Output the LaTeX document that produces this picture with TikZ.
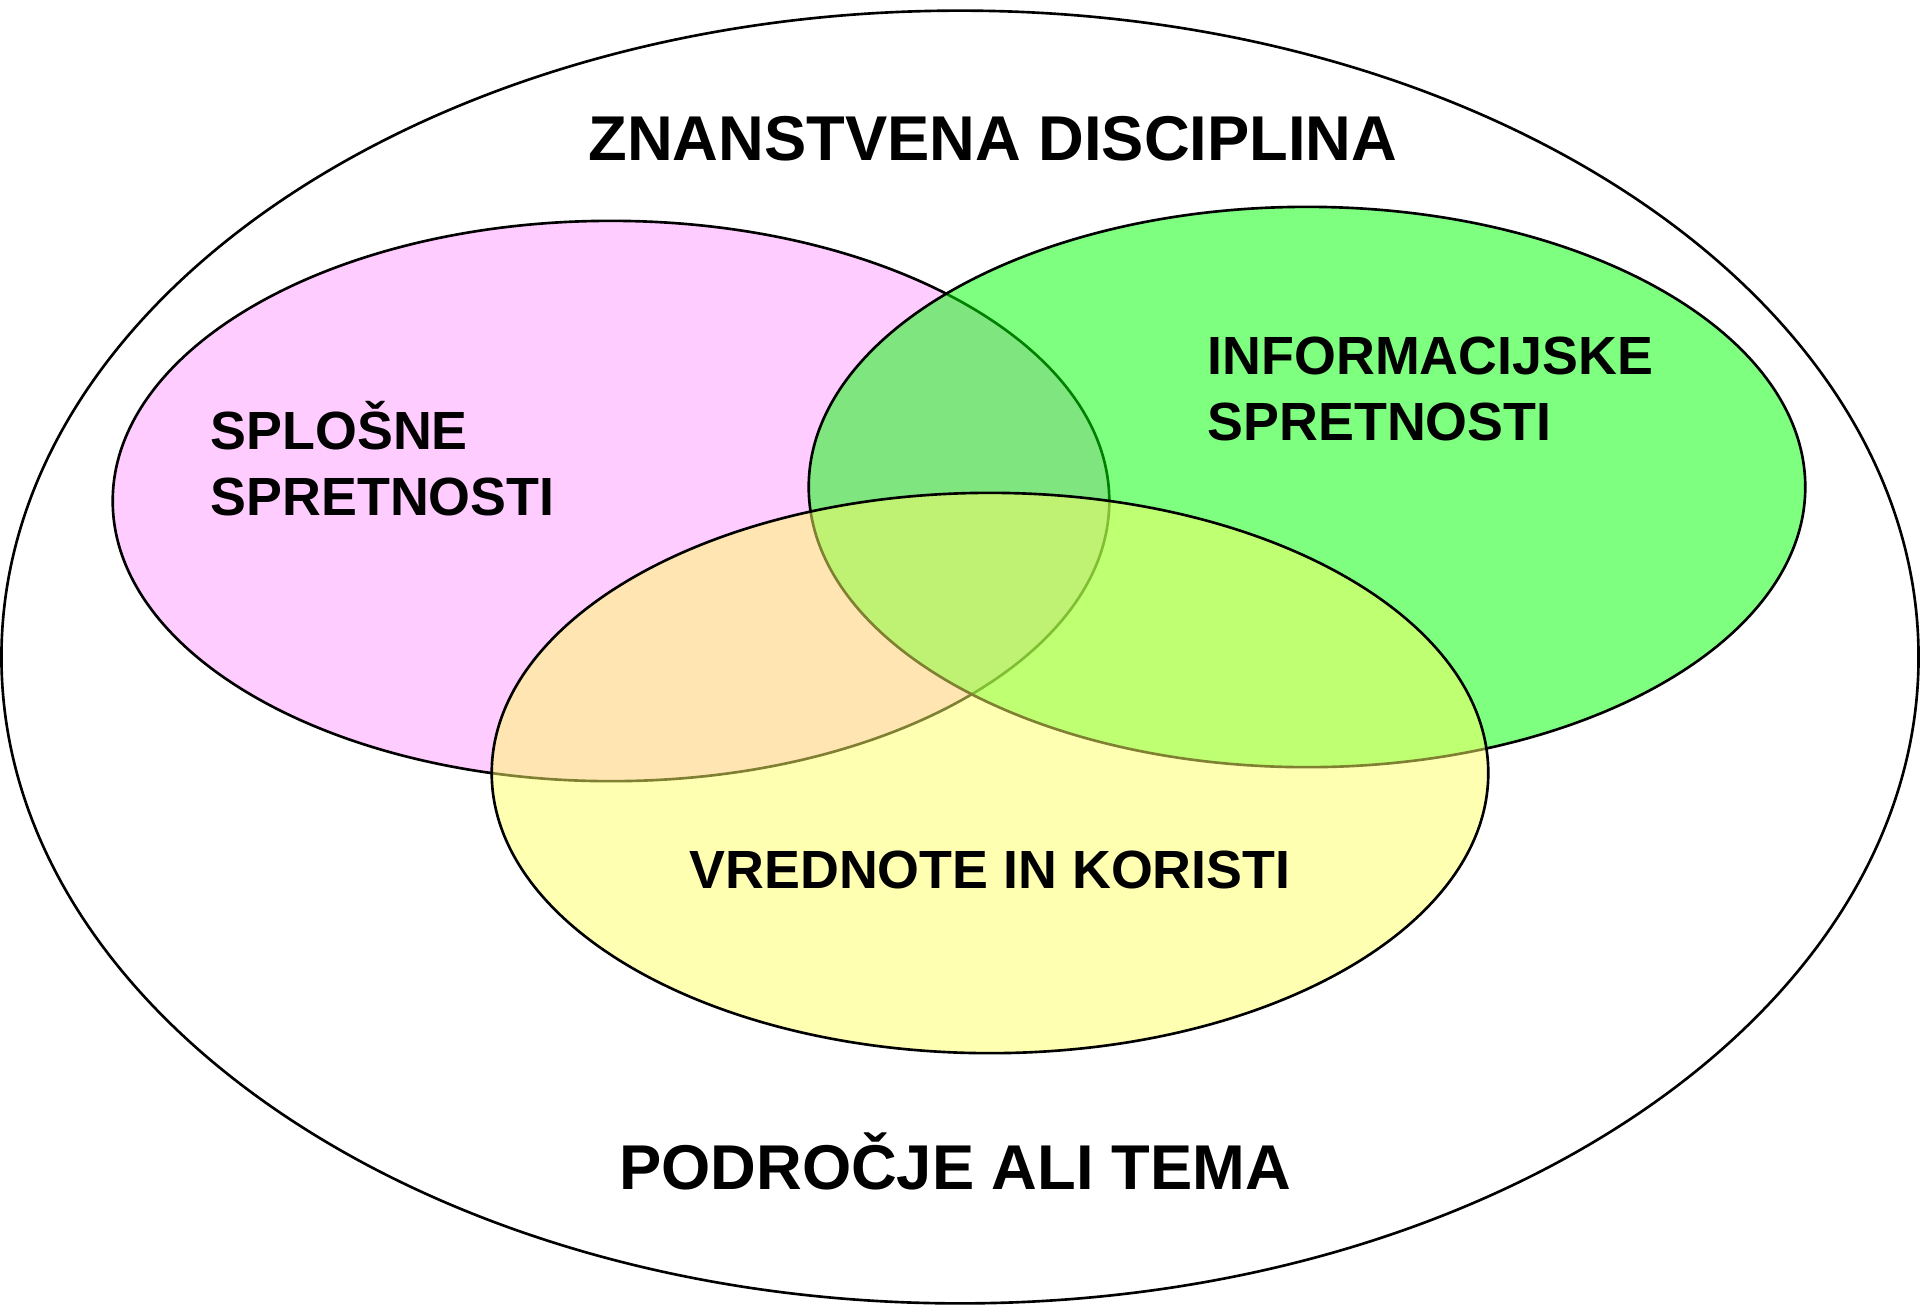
\documentclass[tikz,border=0pt]{standalone}
\usepackage{fontspec}
\setmainfont{Liberation Sans}
\definecolor{vpink}{RGB}{255,153,255}
\definecolor{vgreen}{RGB}{0,255,0}
\definecolor{vyellow}{RGB}{255,255,102}
\tikzset{
  setring/.style={draw=black, line width=0.75pt},
  setfill/.style={setring, fill=#1, fill opacity=0.5},
  titlelabel/.style={inner sep=0pt, font=\fontsize{18}{21}\selectfont\bfseries},
  setlabel/.style={inner sep=0pt, align=left, font=\fontsize{15.3}{18.5}\selectfont\bfseries}
}
\begin{document}
\begin{tikzpicture}[x=0.01cm, y=-0.01cm]
\useasboundingbox (0,0) rectangle (1920,1305);
% outer field
\draw[setring] (960,657) ellipse [x radius=9.58cm, y radius=6.46cm];
% three sets
\draw[setfill=vpink]   (611,501) ellipse [x radius=4.98cm, y radius=2.80cm];
\draw[setfill=vgreen]  (1307,487) ellipse [x radius=4.98cm, y radius=2.80cm];
\draw[setfill=vyellow] (990,773) ellipse [x radius=4.98cm, y radius=2.80cm];
% labels
\node[titlelabel, anchor=base] (disc) at (993,160) {ZNANSTVENA DISCIPLINA};
\node[titlelabel, anchor=base] (tema) at (955,1189) {PODROČJE ALI TEMA};
\node[setlabel, anchor=base west] (spl) at (210,515) {SPLOŠNE\\SPRETNOSTI};
\node[setlabel, anchor=base west] (inf) at (1207,440) {INFORMACIJSKE\\SPRETNOSTI};
\node[setlabel, anchor=base] (vred) at (990,888) {VREDNOTE IN KORISTI};
\end{tikzpicture}
\end{document}
